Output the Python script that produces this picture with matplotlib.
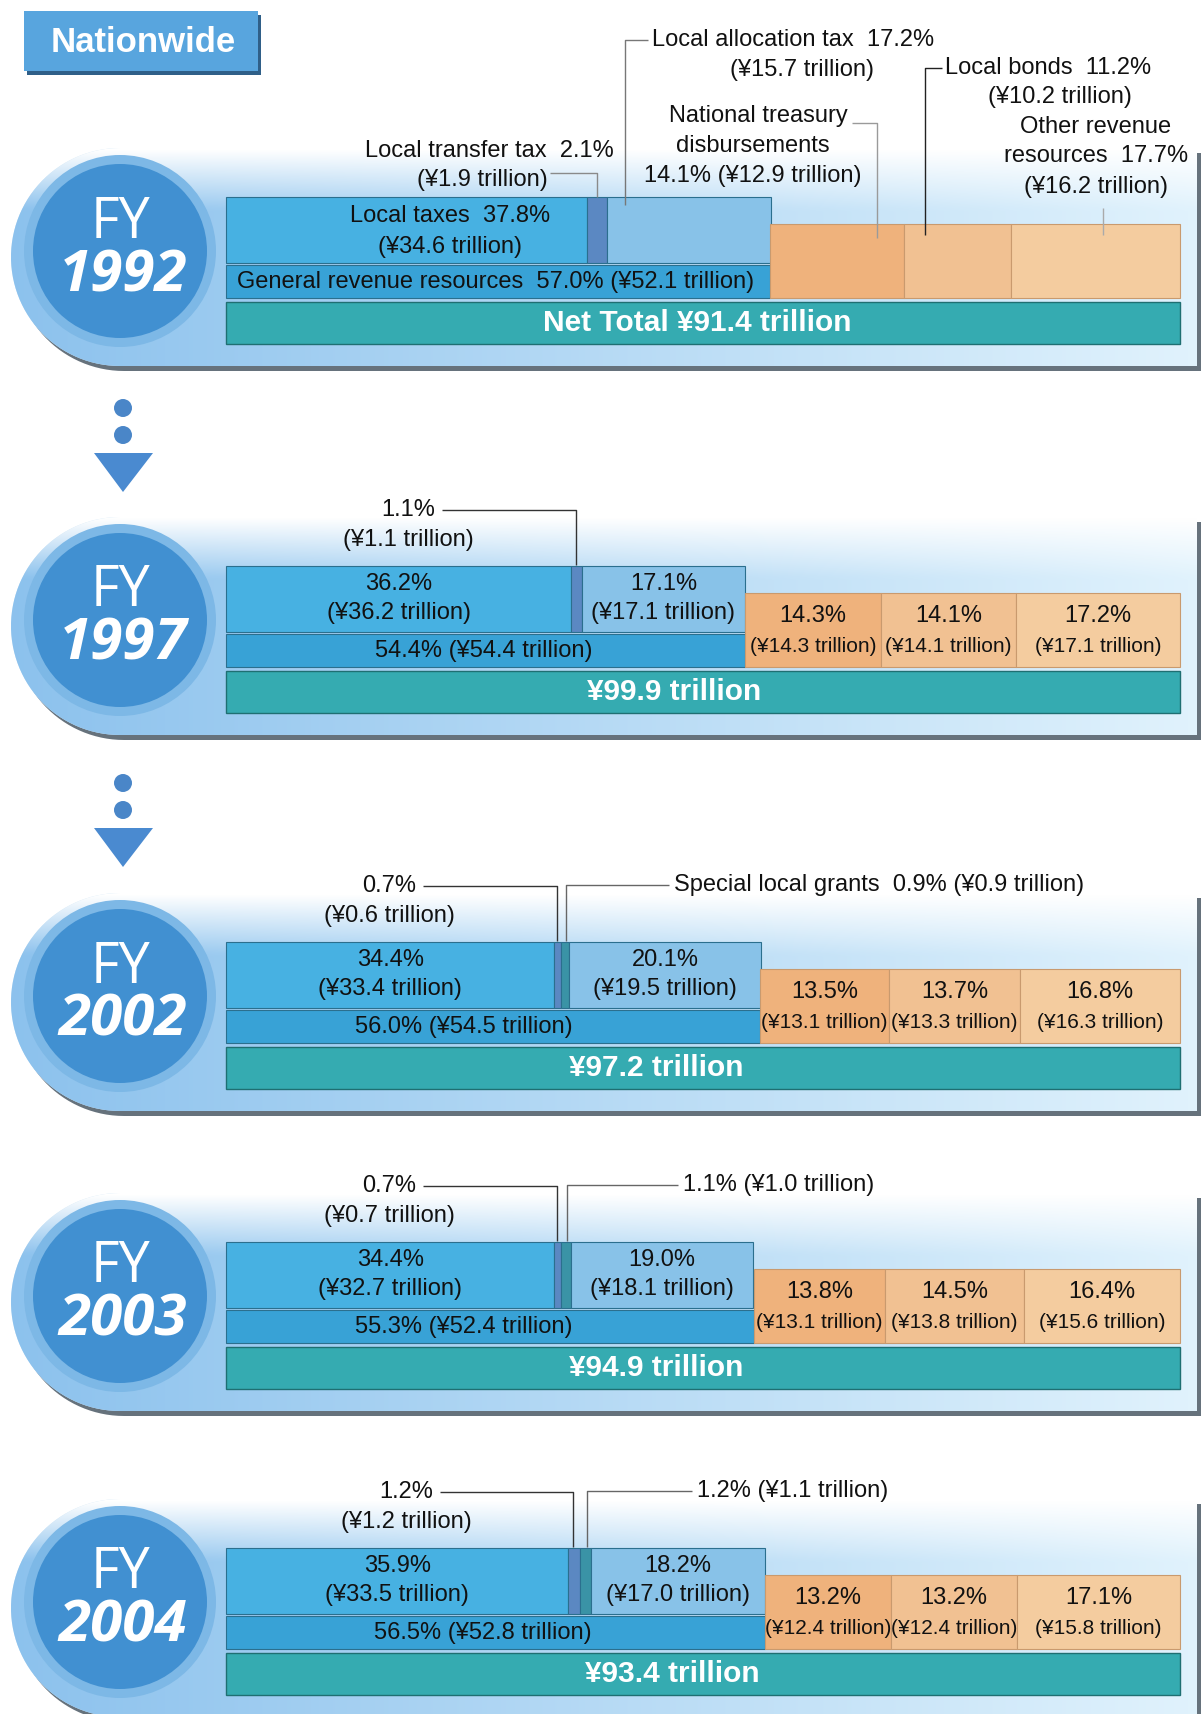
import numpy as np
import matplotlib
matplotlib.use("Agg")
import matplotlib.pyplot as plt
from matplotlib.patches import Circle, Polygon, Rectangle

# ---- data (percent of net total, amounts in trillion yen) ----
years = ["1992", "1997", "2002", "2003", "2004"]
net_total = [91.4, 99.9, 97.2, 94.9, 93.4]
local_taxes_pct = [37.8, 36.2, 34.4, 34.4, 35.9]
local_taxes_amt = [34.6, 36.2, 33.4, 32.7, 33.5]
transfer_pct = [2.1, 1.1, 0.7, 0.7, 1.2]
transfer_amt = [1.9, 1.1, 0.6, 0.7, 1.2]
special_pct = [0.0, 0.0, 0.9, 1.1, 1.2]
special_amt = [0.0, 0.0, 0.9, 1.0, 1.1]
allocation_pct = [17.2, 17.1, 20.1, 19.0, 18.2]
allocation_amt = [15.7, 17.1, 19.5, 18.1, 17.0]
general_pct = [57.0, 54.4, 56.0, 55.3, 56.5]
general_amt = [52.1, 54.4, 54.5, 52.4, 52.8]
treasury_pct = [14.1, 14.3, 13.5, 13.8, 13.2]
treasury_amt = [12.9, 14.3, 13.1, 13.1, 12.4]
bonds_pct = [11.2, 14.1, 13.7, 14.5, 13.2]
bonds_amt = [10.2, 14.1, 13.3, 13.8, 12.4]
other_pct = [17.7, 17.2, 16.8, 16.4, 17.1]
other_amt = [16.2, 17.1, 16.3, 15.6, 15.8]

# ---- layout ----
W, H = 1203, 1714
X0, X1 = 226, 1180
SCALE = (X1 - X0) / 100.0
panel_y0 = [302, 671, 1047, 1347, 1653]      # top of the net-total bar
net_text_x = [697, 674, 656, 656, 672]
gen_text_x = [496, 484, 464, 464, 483]
top_label_x = [0, 408, 389, 389, 406]
special_text_x = [0, 0, 674, 683, 697]

C_TAX = "#47b1e2"
C_TRANSFER = "#5b88c2"
C_SPECIAL = "#3a93a6"
C_ALLOC = "#88c2e8"
C_GENERAL = "#38a2d6"
C_TREASURY = "#efb27c"
C_BONDS = "#f1c192"
C_OTHER = "#f4cc9f"
C_NET = "#35abb1"
EDGE = "#2b6f8e"

FONT = ["Liberation Sans Narrow", "Liberation Sans", "DejaVu Sans"]
FS = 17

fig = plt.figure(figsize=(W / 100, H / 100), dpi=100)
ax = fig.add_axes([0, 0, 1, 1])
ax.set_xlim(0, W)
ax.set_ylim(H, 0)
ax.axis("off")


def xp(p):
    return X0 + p * SCALE


def txt(x, y, s, size=FS, ha="center", color="#111111", **kw):
    ax.text(x, y, s, ha=ha, va="center", fontsize=size, color=color,
            family=FONT, zorder=10, **kw)


def leader(xs, ys, color="#555555", lw=1.0):
    ax.plot(xs, ys, color=color, lw=lw, zorder=9, solid_capstyle="butt")


def band(y0):
    top, bottom = y0 - 154, y0 + 64
    r = (bottom - top) / 2.0
    cx, cy = 120, (top + bottom) / 2.0
    right = 1197
    ang = np.linspace(np.pi / 2, 3 * np.pi / 2, 60)
    arc = np.column_stack([cx + r * np.cos(ang), cy - r * np.sin(ang)])
    verts = np.vstack([[[right, top]], arc, [[right, bottom]]])
    shadow = Polygon(verts + [4, 5], closed=True, fc="#66727c", ec="none", zorder=1)
    ax.add_patch(shadow)
    poly = Polygon(verts, closed=True, fc="#cfe6f7", ec="none", zorder=2)
    ax.add_patch(poly)
    # gradient fill
    nx, ny = 200, 60
    tx = np.linspace(0, 1, nx)[None, :]
    ty = np.linspace(0, 1, ny)[:, None]
    left_c = np.array([0.55, 0.76, 0.93])
    right_c = np.array([0.88, 0.95, 0.99])
    base = left_c[None, None, :] * (1 - tx[..., None]) + right_c[None, None, :] * tx[..., None]
    v = np.clip(ty / 0.28, 0, 1)[..., None]
    v = v * np.ones((1, nx, 1))
    img = np.ones((ny, nx, 3)) * (1 - v) * np.ones(3) + base * v
    im = ax.imshow(img, extent=(cx - r, right, bottom, top), origin="upper",
                   aspect="auto", zorder=2.5, interpolation="bilinear")
    im.set_clip_path(poly)
    # circle with year
    ccy = y0 - 51
    ax.add_patch(Circle((cx, ccy), 96, fc="#7db8e6", ec="none", zorder=4))
    ax.add_patch(Circle((cx, ccy), 87, fc="#4190d1", ec="none", zorder=5))


for i, yr in enumerate(years):
    y0 = panel_y0[i]
    band(y0)
    cy = y0 - 51
    ax.text(120, cy - 28, "FY", ha="center", va="center", fontsize=40, color="white",
            family=["Open Sans", "DejaVu Sans"], zorder=6)
    ax.text(123, cy + 25, yr, ha="center", va="center", fontsize=42, color="white",
            family=["Open Sans", "DejaVu Sans"], fontweight="bold", style="italic", zorder=6)

    # upper row: local taxes, transfer tax, special grants, allocation tax
    up_vals = [local_taxes_pct[i], transfer_pct[i], special_pct[i], allocation_pct[i]]
    up_cols = [C_TAX, C_TRANSFER, C_SPECIAL, C_ALLOC]
    left = 0.0
    up_left = []
    for v, c in zip(up_vals, up_cols):
        up_left.append(left)
        if v > 0:
            ax.barh(y0 - 72, v * SCALE, left=xp(left), height=66, color=c,
                    edgecolor=EDGE, linewidth=0.8, zorder=6)
        left += v
    # general revenue bar
    ax.barh(y0 - 20.5, general_pct[i] * SCALE, left=xp(0), height=33, color=C_GENERAL,
            edgecolor=EDGE, linewidth=0.8, zorder=6)
    # orange row
    or_vals = [treasury_pct[i], bonds_pct[i], other_pct[i]]
    or_cols = [C_TREASURY, C_BONDS, C_OTHER]
    left = general_pct[i]
    or_left = []
    for v, c in zip(or_vals, or_cols):
        or_left.append(left)
        ax.barh(y0 - 41, v * SCALE, left=xp(left), height=74, color=c,
                edgecolor="#c99a6e", linewidth=0.8, zorder=6)
        left += v
    # net total
    ax.barh(y0 + 21, 100 * SCALE, left=xp(0), height=42, color=C_NET,
            edgecolor="#1f6f72", linewidth=1.0, zorder=6)
    prefix = "Net Total " if i == 0 else ""
    ax.text(net_text_x[i], y0 + 21, f"{prefix}¥{net_total[i]:.1f} trillion", ha="center",
            va="center", fontsize=21.5, color="white", fontweight="bold",
            family=["Liberation Sans", "DejaVu Sans"], zorder=10)

    tr_center = xp(up_left[1] + transfer_pct[i] / 2)
    sp_center = xp(up_left[2] + special_pct[i] / 2)

    if i == 0:
        txt(450, y0 - 86, f"Local taxes  {local_taxes_pct[i]:.1f}%")
        txt(450, y0 - 55, f"(¥{local_taxes_amt[i]:.1f} trillion)")
        txt(496, y0 - 20, f"General revenue resources  {general_pct[i]:.1f}% (¥{general_amt[i]:.1f} trillion)")
        txt(614, y0 - 151, f"Local transfer tax  {transfer_pct[i]:.1f}%", ha="right")
        txt(482, y0 - 122, f"(¥{transfer_amt[i]:.1f} trillion)")
        leader([550, tr_center, tr_center], [y0 - 129, y0 - 129, y0 - 105], color="#8a8a8a")
        txt(652, 40, f"Local allocation tax  {allocation_pct[i]:.1f}%", ha="left")
        txt(802, 70, f"(¥{allocation_amt[i]:.1f} trillion)")
        al_x = xp(up_left[3]) + 18
        leader([648, al_x, al_x], [40, 40, y0 - 97], color="#777777")
        txt(848, 116, "National treasury", ha="right")
        txt(753, 146, "disbursements")
        txt(753, 176, f"{treasury_pct[i]:.1f}% (¥{treasury_amt[i]:.1f} trillion)")
        tx_x = xp(or_left[0]) + 107
        leader([852, tx_x, tx_x], [123, 123, y0 - 64], color="#9a9a9a")
        txt(945, 68, f"Local bonds  {bonds_pct[i]:.1f}%", ha="left")
        txt(1060, 97, f"(¥{bonds_amt[i]:.1f} trillion)")
        bd_x = xp(or_left[1]) + 21
        leader([942, bd_x, bd_x], [68, 68, y0 - 67], color="#222222")
        txt(1096, 127, "Other revenue")
        txt(1096, 156, f"resources  {other_pct[i]:.1f}%")
        txt(1096, 187, f"(¥{other_amt[i]:.1f} trillion)")
        ot_x = xp(or_left[2] + other_pct[i] / 2) + 7
        leader([ot_x, ot_x], [208, y0 - 67], color="#aaaaaa")
        continue

    # inside labels
    tax_c = xp(local_taxes_pct[i] / 2)
    txt(tax_c, y0 - 87, f"{local_taxes_pct[i]:.1f}%")
    txt(tax_c, y0 - 58, f"(¥{local_taxes_amt[i]:.1f} trillion)")
    al_c = xp(up_left[3] + allocation_pct[i] / 2)
    txt(al_c, y0 - 87, f"{allocation_pct[i]:.1f}%")
    txt(al_c, y0 - 58, f"(¥{allocation_amt[i]:.1f} trillion)")
    txt(gen_text_x[i], y0 - 20, f"{general_pct[i]:.1f}% (¥{general_amt[i]:.1f} trillion)")
    for v, a, l in zip(or_vals, [treasury_amt[i], bonds_amt[i], other_amt[i]], or_left):
        c = xp(l + v / 2)
        txt(c, y0 - 55, f"{v:.1f}%")
        txt(c, y0 - 25, f"(¥{a:.1f} trillion)", size=15)

    # transfer tax callout
    lx = top_label_x[i]
    txt(lx, y0 - 161, f"{transfer_pct[i]:.1f}%")
    txt(lx, y0 - 131, f"(¥{transfer_amt[i]:.1f} trillion)")
    leader([lx + 34, tr_center - 1, tr_center - 1], [y0 - 161, y0 - 161, y0 - 106], color="#333333")

    # special local grants callout
    if special_pct[i] > 0:
        sx = special_text_x[i]
        lab = "Special local grants  " if i == 2 else ""
        txt(sx, y0 - 162, f"{lab}{special_pct[i]:.1f}% (¥{special_amt[i]:.1f} trillion)", ha="left")
        leader([sx - 5, sp_center + 1, sp_center + 1], [y0 - 162, y0 - 162, y0 - 106], color="#666666")

# arrows between panels
for ys in [408, 783]:
    for dy in [0, 27]:
        ax.add_patch(Circle((123, ys + dy), 9, fc="#4a86c8", ec="none", zorder=3))
    ax.add_patch(Polygon([[94, ys + 45], [153, ys + 45], [123, ys + 84]], closed=True,
                         fc="#4a8ad0", ec="none", zorder=3))

# title box
ax.add_patch(Rectangle((27, 15), 234, 60, fc="#2f5f88", ec="none", zorder=3))
ax.add_patch(Rectangle((24, 11), 234, 60, fc="#58a5de", ec="none", zorder=4))
ax.text(143, 42, "Nationwide", ha="center", va="center", fontsize=25, color="white",
        fontweight="bold", family=["Liberation Sans", "DejaVu Sans"], zorder=5)

fig.savefig("out.png", dpi=100)
